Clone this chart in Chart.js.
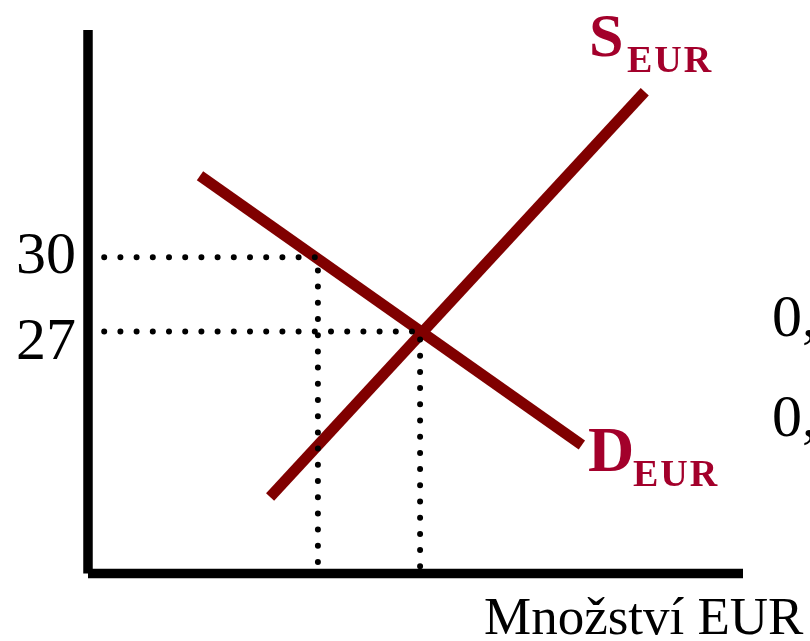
<!DOCTYPE html>
<html>
<head>
<meta charset="utf-8">
<script src="https://cdn.jsdelivr.net/npm/chart.js@4.4.1/dist/chart.umd.min.js"></script>
<style>
  html, body { margin: 0; padding: 0; background: #fff; }
  #box { width: 810px; height: 641px; position: relative; }
</style>
</head>
<body>
<div id="box"><canvas id="graf"></canvas></div>
<script>
// rozsah os
const xMin = 0, xMax = 100;
const yMin = 17.2, yMax = 39.2;

// ceny (Kč/EUR) a odpovídající množství
const ceny = [30, 27];
const mnozstvi = [35.1, 50.7];
const cenyPopisky = ['30', '27'];

// nabídka S a poptávka D (koncové body)
const nabidkaX = [27.8, 85.0];
const nabidkaY = [20.3, 36.7];
const poptavkaX = [17.1, 75.4];
const poptavkaY = [33.3, 22.4];

const cervena = '#800000';
const textCervena = '#a3002b';

function body(xs, ys) {
    return xs.map((x, i) => ({ x: x, y: ys[i] }));
}

// tečkované čáry od osy y k bodu a dolů na osu x
const tecky = ceny.map((c, i) => ({
    data: [{ x: xMin, y: c }, { x: mnozstvi[i], y: c }, { x: mnozstvi[i], y: yMin }],
    borderColor: '#000',
    borderWidth: 6,
    borderDash: [0, 16.2],
    borderCapStyle: 'round',
    clip: false
}));

const popisky = {
    id: 'popisky',
    afterDatasetsDraw(chart) {
        const ctx = chart.ctx;
        const y = chart.scales.y;
        ctx.save();
        ctx.fillStyle = '#000';
        ctx.font = '60px "Liberation Serif"';
        ctx.textAlign = 'right';
        ctx.textBaseline = 'alphabetic';
        ctx.fillText(cenyPopisky[0], 76, y.getPixelForValue(ceny[0]) + 16);
        ctx.fillText(cenyPopisky[1], 76, y.getPixelForValue(ceny[1]) + 28);

        ctx.textAlign = 'left';
        ctx.fillText('0,', 772, 336);
        ctx.fillText('0,', 772, 436);

        ctx.font = '53px "Liberation Serif"';
        ctx.fillText('Množství EUR', 484, 634);

        ctx.fillStyle = textCervena;
        ctx.font = 'bold 62px "Liberation Serif"';
        ctx.fillText('S', 589, 56);
        ctx.font = 'bold 64px "Liberation Serif"';
        ctx.fillText('D', 588, 471);
        ctx.font = 'bold 38px "Liberation Serif"';
        ctx.letterSpacing = '2px';
        ctx.fillText('EUR', 627, 72);
        ctx.fillText('EUR', 633, 486);
        ctx.restore();
    }
};

new Chart(document.getElementById('graf'), {
    type: 'scatter',
    data: {
        datasets: [
            ...tecky,
            {
                data: body(nabidkaX, nabidkaY),
                borderColor: cervena,
                borderWidth: 11,
                borderCapStyle: 'butt'
            },
            {
                data: body(poptavkaX, poptavkaY),
                borderColor: cervena,
                borderWidth: 11,
                borderCapStyle: 'butt'
            },
            {
                // osa y
                data: [{ x: xMin, y: yMin }, { x: xMin, y: yMax }],
                borderColor: '#000',
                borderWidth: 9.5,
                borderCapStyle: 'butt',
                clip: false
            },
            {
                // osa x
                data: [{ x: xMin, y: yMin }, { x: xMax, y: yMin }],
                borderColor: '#000',
                borderWidth: 9.5,
                borderCapStyle: 'butt',
                clip: false
            }
        ]
    },
    options: {
        responsive: true,
        maintainAspectRatio: false,
        animation: false,
        showLine: true,
        elements: { point: { radius: 0, hoverRadius: 0 } },
        layout: { padding: { left: 88, top: 30, right: 67, bottom: 67.5 } },
        plugins: {
            legend: { display: false },
            tooltip: { enabled: false }
        },
        scales: {
            x: { type: 'linear', display: false, min: xMin, max: xMax },
            y: { type: 'linear', display: false, min: yMin, max: yMax }
        }
    },
    plugins: [popisky]
});
</script>
</body>
</html>
